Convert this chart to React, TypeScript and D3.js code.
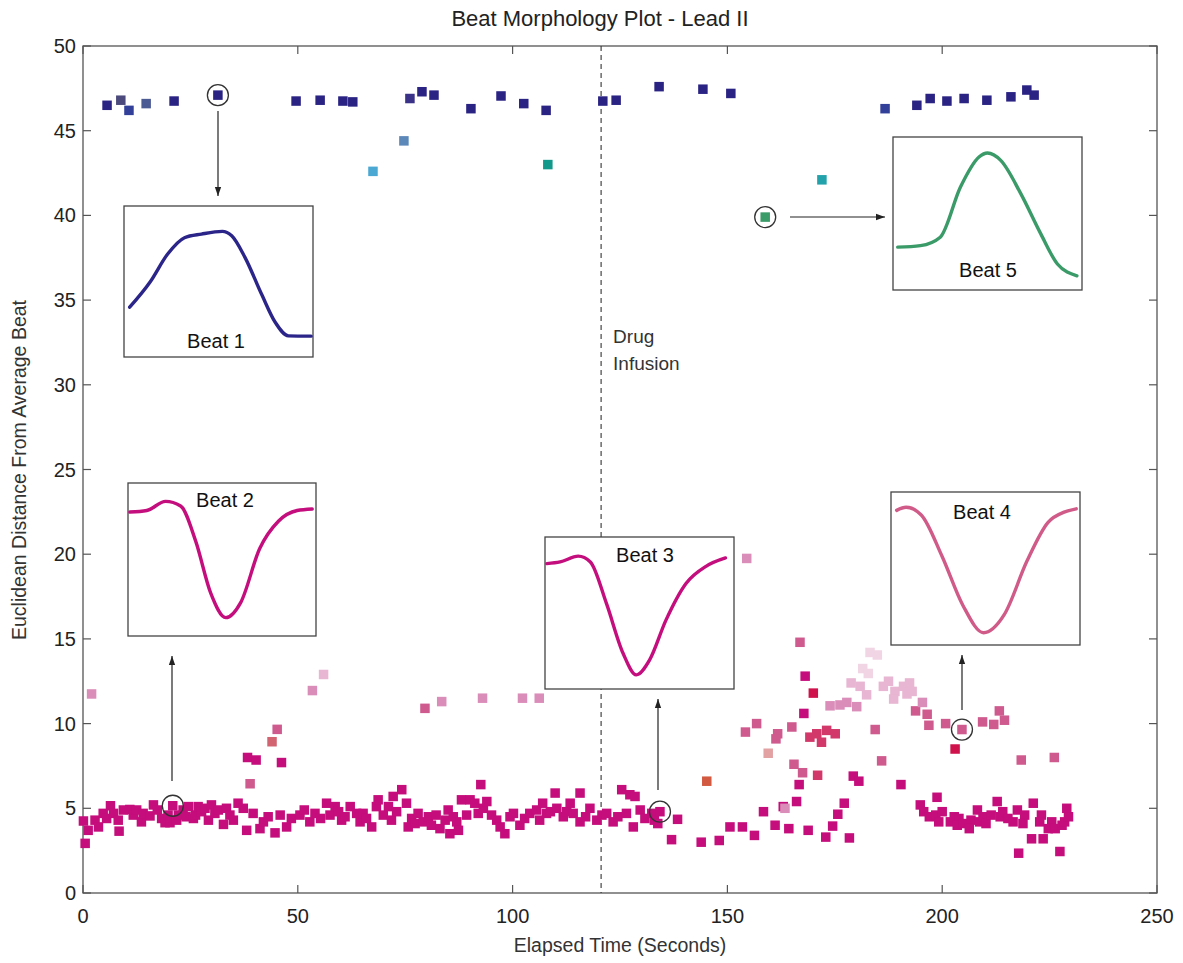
import React from "react";
import * as d3 from "d3";

// ---------- DATA ----------
const xTicks = [0, 50, 100, 150, 200, 250];
const yTicks = [0, 5, 10, 15, 20, 25, 30, 35, 40, 45, 50];
const drugInfusionTime = 120.6;

// Beats similar to the average (magenta band)
const normalBeats: [number, number][] = [
  [0.5, 2.93], [0.1, 4.25], [1.2, 3.7], [2.8, 4.3], [3.6, 3.9], [4.7, 4.7], [5.5, 4.4], [6.4, 5.15], [7.1, 4.7], [8.2, 4.3],
  [8.4, 3.65], [9.4, 4.9], [10.9, 4.93], [11.7, 4.6], [12.5, 4.9], [13.6, 4.2], [14.0, 4.7], [15.6, 4.55], [16.4, 5.2], [17.3, 4.9],
  [18.3, 4.4], [19.1, 4.15], [19.8, 4.6], [20.25, 4.15], [20.9, 5.15], [21.8, 4.3], [22.2, 4.6], [23.3, 4.9], [24.0, 4.5], [24.5, 5.1],
  [25.7, 4.4], [26.2, 4.6], [26.8, 5.1], [27.6, 4.8], [28.4, 5.0], [29.2, 4.3], [29.9, 5.2], [30.7, 4.7], [31.5, 4.9], [32.7, 4.05],
  [33.4, 5.0], [34.2, 4.6], [35.0, 4.3], [36.1, 5.3], [37.3, 5.0], [38.1, 3.7], [39.6, 4.7], [41.2, 3.8], [42.0, 4.2], [43.1, 4.5],
  [44.7, 3.55], [45.9, 4.6], [47.4, 3.9], [48.5, 4.4], [50.5, 4.6], [51.5, 4.9], [52.8, 4.2], [54.0, 4.7], [55.3, 4.4], [56.7, 5.3],
  [57.5, 4.6], [58.7, 5.1], [59.5, 4.8], [60.2, 4.3], [61.0, 4.5], [62.2, 5.1], [63.7, 4.7], [64.5, 4.2], [65.2, 4.7], [66.0, 4.4],
  [67.2, 3.9], [68.3, 5.1], [68.7, 5.5], [69.9, 4.6], [71.1, 5.1], [71.8, 4.3], [72.2, 5.7], [73.0, 4.8], [74.2, 6.1], [75.3, 5.3],
  [75.7, 3.9], [76.5, 4.4], [77.3, 4.1], [78.0, 4.7], [79.2, 4.2], [80.4, 4.5], [81.1, 4.0], [82.2, 4.6], [83.1, 3.8], [84.3, 4.3],
  [85.0, 4.9], [85.4, 3.5], [86.2, 4.5], [87.0, 4.2], [87.4, 3.7], [88.1, 5.5], [89.3, 4.6], [90.1, 5.5], [91.2, 5.3], [92.0, 4.7],
  [92.6, 6.4], [93.2, 5.0], [94.0, 5.4], [95.1, 4.6], [96.3, 4.3], [97.1, 3.9], [98.2, 3.5], [99.4, 4.5], [100.2, 4.7], [101.7, 4.0],
  [102.8, 4.4], [104.0, 4.7], [105.6, 4.9], [106.3, 4.3], [107.0, 5.3], [107.9, 4.7], [108.8, 4.8], [109.9, 5.9], [110.3, 5.0], [111.8, 4.5],
  [112.6, 4.8], [113.4, 5.3], [114.1, 4.7], [115.7, 5.9], [115.7, 4.2], [117.0, 4.5], [118.0, 5.0], [119.6, 4.3], [120.8, 4.6], [121.9, 4.7],
  [123.4, 4.2], [124.5, 4.5], [125.4, 6.1], [126.5, 4.7], [127.3, 5.8], [128.5, 5.7], [128.1, 3.9], [129.7, 4.9], [130.8, 4.4], [132.4, 4.7],
  [133.0, 4.3], [133.8, 4.1], [134.3, 4.8], [137.0, 3.15], [138.4, 4.35], [143.9, 3.0], [148.1, 3.1], [150.6, 3.9], [153.5, 3.9], [156.3, 3.4],
  [158.4, 4.8], [161.1, 4.0], [163.0, 5.1], [164.3, 3.8], [166.1, 5.4], [168.8, 3.7], [172.9, 3.3], [174.5, 3.95], [175.7, 4.65], [177.2, 5.3],
  [178.4, 3.25], [166.7, 6.4], [179.3, 6.9], [180.6, 6.6], [190.4, 6.4], [168.1, 12.8], [167.8, 10.6], [38.3, 8.0], [40.3, 7.85], [46.2, 7.7],
  [194.9, 5.2], [195.7, 4.8], [197.0, 4.5], [198.8, 5.65], [198.5, 4.6], [200.0, 4.8], [199.2, 4.2], [201.9, 4.2], [202.8, 4.5], [203.9, 4.4],
  [203.5, 4.0], [205.0, 4.1], [206.7, 4.3], [206.3, 3.8], [208.2, 4.9], [208.7, 4.2], [209.5, 4.5], [210.2, 4.1], [211.4, 4.6], [212.8, 5.4],
  [213.5, 4.5], [214.1, 4.8], [215.3, 4.4], [216.5, 4.2], [217.5, 4.9], [219.2, 4.6], [218.8, 4.1], [220.8, 3.2], [221.2, 5.3], [223.1, 4.6],
  [222.7, 4.2], [223.5, 3.2], [224.7, 3.8], [225.5, 4.2], [226.3, 3.8], [227.9, 4.0], [228.5, 4.2], [229.0, 5.0], [229.4, 4.5], [217.8, 2.35],
  [227.4, 2.45],
];

// Beats far from the average (navy band)
const farBeats: [number, number][] = [
  [5.6, 46.5], [21.2, 46.75], [31.4, 47.1], [49.6, 46.75], [55.2, 46.8], [60.5, 46.75], [62.8, 46.7], [78.9, 47.3], [81.7, 47.1],
  [90.3, 46.3], [97.3, 47.05], [102.6, 46.6], [107.8, 46.2], [121.0, 46.75], [124.1, 46.8], [134.1, 47.6], [144.3, 47.45], [150.8, 47.2],
  [194.1, 46.5], [197.2, 46.9], [201.1, 46.75], [205.1, 46.9], [210.4, 46.8], [216.0, 47.0], [219.7, 47.4], [221.4, 47.1],
];

// Remaining beats: [time, distance, similarity class]
const otherBeats: [number, number, string][] = [
  [8.8, 46.8, "slate"], [14.7, 46.6, "slate2"], [10.7, 46.2, "indigo"], [186.7, 46.3, "indigo"], [76.1, 46.9, "violet"],
  [67.5, 42.6, "sky"], [74.7, 44.4, "steel"], [108.2, 43.0, "teal"], [172.0, 42.1, "cyan"], [158.8, 39.9, "green"],
  [170.0, 11.8, "crimson"], [203.0, 8.5, "crimson"],
  [169.2, 9.2, "rose"], [170.8, 9.4, "rose"], [171.9, 8.9, "rose"], [173.1, 9.6, "rose"], [175.1, 9.4, "rose"], [171.0, 6.95, "rose"],
  [166.9, 14.8, "pink"], [154.2, 9.5, "pink"], [156.8, 10.0, "pink"], [161.7, 9.4, "pink"], [161.3, 9.1, "pink"], [165.5, 7.6, "pink"],
  [167.5, 7.1, "pink"], [184.4, 9.65, "pink"], [185.9, 7.8, "pink"], [45.2, 9.66, "pink"], [38.9, 6.45, "pink"], [79.6, 10.9, "pink"],
  [193.8, 10.75, "pink"], [196.5, 10.55, "pink"], [196.9, 9.9, "pink"], [200.8, 10.0, "pink"], [204.6, 9.65, "pink"], [209.4, 10.1, "pink"],
  [212.0, 9.95, "pink"], [213.3, 10.75, "pink"], [214.5, 10.2, "pink"], [218.4, 7.85, "pink"], [226.1, 8.0, "pink"], [165.0, 9.8, "pink"],
  [44.0, 8.93, "coral"],
  [2.0, 11.75, "light"], [53.4, 11.95, "light"], [83.5, 11.3, "light"], [93.0, 11.5, "light"], [102.3, 11.5, "light"], [106.2, 11.5, "light"],
  [154.5, 19.75, "light"], [173.9, 11.05, "light"], [176.2, 11.1, "light"], [177.8, 11.25, "light"], [180.1, 11.0, "light"], [195.4, 11.25, "light"],
  [163.4, 5.0, "light"],
  [56.0, 12.9, "pale"], [178.8, 12.4, "pale"], [180.9, 12.2, "pale"], [182.4, 11.7, "pale"], [186.3, 12.2, "pale"], [187.5, 12.5, "pale"],
  [189.0, 11.9, "pale"], [188.7, 11.45, "pale"], [191.0, 12.2, "pale"], [192.4, 12.4, "pale"], [193.0, 11.9, "pale"], [191.8, 11.75, "pale"],
  [181.5, 13.25, "palest"], [182.8, 12.96, "palest"], [183.2, 14.2, "palest"], [184.9, 14.05, "palest"],
  [159.5, 8.25, "salmon"], [145.2, 6.6, "orange"],
];

// Highlighted beats: [name, time, distance]
const highlighted: [string, number, number][] = [
  ["Beat 1", 31.4, 47.1],
  ["Beat 2", 20.9, 5.15],
  ["Beat 3", 134.3, 4.8],
  ["Beat 4", 204.6, 9.65],
  ["Beat 5", 158.8, 39.9],
];

// Waveform shapes (normalised sample position, normalised amplitude from top)
const beat1Wave: [number, number][] = [[0.03, 0.67], [0.14, 0.5], [0.23, 0.32], [0.32, 0.21], [0.41, 0.186], [0.52, 0.168], [0.57, 0.197], [0.64, 0.34], [0.73, 0.59], [0.8, 0.77], [0.87, 0.86], [0.99, 0.862]];
const beat2Wave: [number, number][] = [[0.01, 0.19], [0.1, 0.18], [0.2, 0.12], [0.28, 0.15], [0.36, 0.38], [0.44, 0.72], [0.52, 0.88], [0.6, 0.78], [0.7, 0.43], [0.8, 0.25], [0.9, 0.18], [0.98, 0.17]];
const beat3Wave: [number, number][] = [[0.01, 0.175], [0.08, 0.164], [0.176, 0.126], [0.24, 0.164], [0.325, 0.437], [0.413, 0.765], [0.483, 0.907], [0.553, 0.81], [0.64, 0.547], [0.746, 0.306], [0.852, 0.193], [0.955, 0.138]];
const beat4Wave: [number, number][] = [[0.03, 0.12], [0.08, 0.1], [0.16, 0.15], [0.27, 0.42], [0.38, 0.74], [0.49, 0.92], [0.6, 0.8], [0.72, 0.45], [0.83, 0.2], [0.92, 0.13], [0.98, 0.11]];
const beat5Wave: [number, number][] = [[0.025, 0.72], [0.145, 0.71], [0.25, 0.655], [0.357, 0.327], [0.455, 0.131], [0.5, 0.105], [0.57, 0.153], [0.676, 0.37], [0.782, 0.633], [0.87, 0.83], [0.973, 0.907]];

// ---------- STYLE / LAYOUT ----------
const W = 1183, H = 963;
const M = { left: 83, right: 1157, top: 46, bottom: 893 };
const FONT = "Liberation Sans, Arial, Helvetica, sans-serif";
const AXIS = "#555";
const SQ = 9.5;

const classColor: Record<string, string> = {
  normal: "#c50d7c", far: "#2a2384",
  slate: "#4c4a7c", slate2: "#4b5a93", indigo: "#33409a", violet: "#3a3288",
  sky: "#4aa8d2", steel: "#5b88b8", teal: "#12998b", cyan: "#22a2aa", green: "#3a9a68",
  crimson: "#d0124c", rose: "#d2396a", pink: "#cf5a8e", coral: "#d26472",
  light: "#db8dba", pale: "#e8b6d2", palest: "#f1d5e5", salmon: "#e2a2a4", orange: "#d25a40",
};

const insets = [
  { name: "Beat 1", wave: beat1Wave, color: "#2b2589", box: [124, 206, 189, 151], label: [216, 348], arrow: [218, 111, 218, 196] },
  { name: "Beat 2", wave: beat2Wave, color: "#c40e7e", box: [128, 483, 188, 153], label: [225, 507], arrow: [172, 781, 172, 656] },
  { name: "Beat 3", wave: beat3Wave, color: "#c40e7e", box: [545, 537, 189, 152], label: [645, 562], arrow: [658, 790, 658, 699] },
  { name: "Beat 4", wave: beat4Wave, color: "#d05a88", box: [891, 492, 189, 153], label: [982, 519], arrow: [962, 710, 962, 655] },
  { name: "Beat 5", wave: beat5Wave, color: "#3a9a68", box: [893, 137, 189, 153], label: [988, 277], arrow: [790, 217, 885, 217] },
];

export default function App() {
  const x = d3.scaleLinear().domain([0, 250]).range([M.left, M.right]);
  const y = d3.scaleLinear().domain([0, 50]).range([M.bottom, M.top]);
  const TL = 8;

  return (
    <svg width={W} height={H} style={{ position: "absolute", left: 0, top: 0, display: "block", background: "#fff" }} fontFamily={FONT}>
      <defs>
        <marker id="ah" viewBox="0 0 10 10" refX="10" refY="5" markerWidth="9" markerHeight="9" orient="auto-start-reverse" markerUnits="userSpaceOnUse">
          <path d="M0,1.5 L10,5 L0,8.5 Z" fill="#222" />
        </marker>
      </defs>

      <text x={600} y={26} textAnchor="middle" fontSize={22} fill="#222">Beat Morphology Plot - Lead II</text>

      {/* axes box */}
      <rect x={M.left} y={M.top} width={M.right - M.left} height={M.bottom - M.top} fill="none" stroke={AXIS} strokeWidth={1.3} />
      {xTicks.map((t) => (
        <g key={"xt" + t}>
          <line x1={x(t)} x2={x(t)} y1={M.bottom} y2={M.bottom - TL} stroke={AXIS} strokeWidth={1.2} />
          <line x1={x(t)} x2={x(t)} y1={M.top} y2={M.top + TL} stroke={AXIS} strokeWidth={1.2} />
          <text x={x(t)} y={M.bottom + 30} textAnchor="middle" fontSize={20} fill="#222">{t}</text>
        </g>
      ))}
      {yTicks.map((t) => (
        <g key={"yt" + t}>
          <line x1={M.left} x2={M.left + TL} y1={y(t)} y2={y(t)} stroke={AXIS} strokeWidth={1.2} />
          <line x1={M.right} x2={M.right - TL} y1={y(t)} y2={y(t)} stroke={AXIS} strokeWidth={1.2} />
          <text x={M.left - 7} y={y(t) + 7} textAnchor="end" fontSize={20} fill="#222">{t}</text>
        </g>
      ))}
      <text x={620} y={952} textAnchor="middle" fontSize={19.5} fill="#333">Elapsed Time (Seconds)</text>
      <text transform={`translate(26,470) rotate(-90)`} textAnchor="middle" fontSize={19.5} fill="#333">Euclidean Distance From Average Beat</text>

      {/* drug infusion */}
      <line x1={x(drugInfusionTime)} x2={x(drugInfusionTime)} y1={M.top} y2={M.bottom} stroke="#333" strokeWidth={1.1} strokeDasharray="5,4" />
      <text x={x(drugInfusionTime) + 12} y={343} fontSize={19} fill="#333">Drug</text>
      <text x={x(drugInfusionTime) + 12} y={370} fontSize={19} fill="#333">Infusion</text>

      {/* points */}
      {normalBeats.map(([t, d], i) => (
        <rect key={"n" + i} x={x(t) - SQ / 2} y={y(d) - SQ / 2} width={SQ} height={SQ} fill={classColor.normal} />
      ))}
      {otherBeats.map(([t, d, c], i) => (
        <rect key={"o" + i} x={x(t) - SQ / 2} y={y(d) - SQ / 2} width={SQ} height={SQ} fill={classColor[c]} />
      ))}
      {farBeats.map(([t, d], i) => (
        <rect key={"f" + i} x={x(t) - SQ / 2} y={y(d) - SQ / 2} width={SQ} height={SQ} fill={classColor.far} />
      ))}

      {/* highlight circles */}
      {highlighted.map(([n, t, d]) => (
        <circle key={"c" + n} cx={x(t)} cy={y(d)} r={10.5} fill="none" stroke="#333" strokeWidth={1.3} />
      ))}

      {/* insets */}
      {insets.map((ins) => {
        const [bx, by, bw, bh] = ins.box;
        const sx = d3.scaleLinear().domain([0, 1]).range([bx, bx + bw]);
        const sy = d3.scaleLinear().domain([0, 1]).range([by, by + bh]);
        const line = d3.line<[number, number]>().x((p) => sx(p[0])).y((p) => sy(p[1])).curve(d3.curveMonotoneX);
        const [ax1, ay1, ax2, ay2] = ins.arrow;
        return (
          <g key={ins.name}>
            <line x1={ax1} y1={ay1} x2={ax2} y2={ay2} stroke="#222" strokeWidth={1.2} markerEnd="url(#ah)" />
            <rect x={bx} y={by} width={bw} height={bh} fill="#fff" stroke="#444" strokeWidth={1.3} />
            <path d={line(ins.wave) || ""} fill="none" stroke={ins.color} strokeWidth={3.4} strokeLinecap="round" strokeLinejoin="round" />
            <text x={ins.label[0]} y={ins.label[1]} textAnchor="middle" fontSize={20} fill="#111">{ins.name}</text>
          </g>
        );
      })}
    </svg>
  );
}
